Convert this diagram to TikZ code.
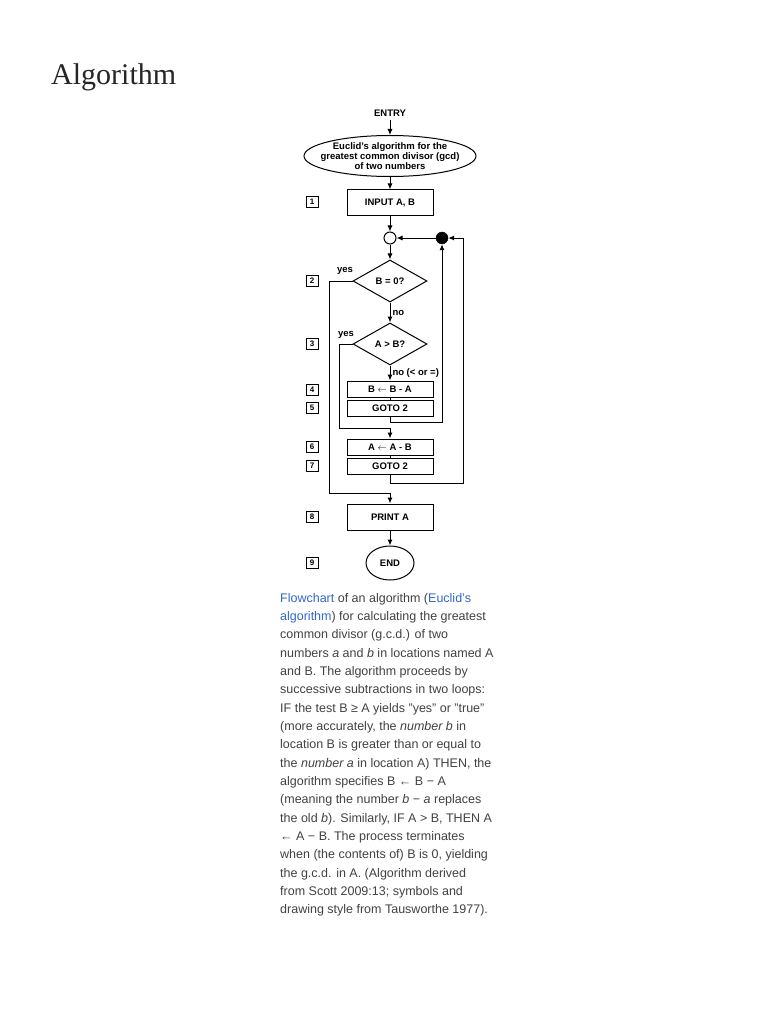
\documentclass[tikz,border=0pt]{standalone}
\usepackage{fontspec}
\setmainfont{Liberation Sans}
\newfontfamily\titlefont{Liberation Serif}
\usetikzlibrary{shapes.geometric,arrows.meta}
\definecolor{captext}{HTML}{424242}
\definecolor{linkblue}{HTML}{3366CC}
\newcommand{\lnk}[1]{\textcolor{linkblue}{#1}}

\begin{document}
\begin{tikzpicture}[x=1pt,y=-1pt,
		every node/.style={font=\fontsize{9.5}{11}\selectfont\bfseries},
		arr/.style={-{Latex[length=6pt,width=5pt]}, line width=1pt},
		ln/.style={line width=1pt},
		stepbox/.style={draw, line width=1pt, minimum width=86, minimum height=16, inner sep=0},
		bigbox/.style={stepbox, minimum height=26},
		test/.style={draw, line width=1pt, diamond, aspect=1.76, minimum width=74, minimum height=42, inner sep=0},
		numbox/.style={draw, line width=0.6pt, minimum width=12, minimum height=11, inner sep=0, font=\fontsize{8}{8}\selectfont\bfseries},
		captxt/.style={anchor=base west, inner sep=0, text=captext, font=\fontsize{12.5}{14}\selectfont}]
		\fill[white] (0,0) rectangle (768,1024);
		\useasboundingbox (0,0) rectangle (768,1024);

		\node[anchor=base west, inner sep=0, font=\titlefont\fontsize{30}{34}\selectfont, text=black!85] (title) at (51,85) {Algorithm};

		% flowchart
		\node (entry) at (390,113) {ENTRY};
		\node[draw, ellipse, line width=1pt, minimum width=172, minimum height=41, inner xsep=-13.5pt, inner ysep=-4pt, align=center, font=\fontsize{9.5}{10.3}\selectfont\bfseries] (start) at (390,156) {Euclid's algorithm for the\\greatest common divisor (gcd)\\of two numbers};
		\node[bigbox] (input) at (390,203) {INPUT A, B};
		\node[draw, circle, line width=1pt, minimum size=12, inner sep=0] (join) at (390,238) {};
		\node[draw, circle, fill=black, minimum size=12, inner sep=0] (dot) at (442,238) {};
		\node[test] (bzero) at (390,281) {B = 0?};
		\node[test] (agtb) at (390,344) {A > B?};
		\node[stepbox] (subb) at (390,389) {B $\leftarrow$ B - A};
		\node[stepbox] (gotoa) at (390,408) {GOTO 2};
		\node[stepbox] (suba) at (390,447) {A $\leftarrow$ A - B};
		\node[stepbox] (gotob) at (390,466) {GOTO 2};
		\node[bigbox] (print) at (390,517) {PRINT A};
		\node[draw, ellipse, line width=1pt, minimum width=48, minimum height=34, inner sep=0] (end) at (390,563) {END};

		\node (yesa) at (345,271) {yes};
		\node (yesb) at (346,335) {yes};

		\foreach \n/\y in {1/202,2/281,3/344,4/390,5/408,6/447,7/466,8/517,9/563}
			\node[numbox] (n\n) at (312,\y) {\n};

		\coordinate (loopa) at (442,422);
		\coordinate (loopb) at (463,483);
		\coordinate (loopbtop) at (463,238);
		\coordinate (yesaend) at (329,493);
		\coordinate (yesbend) at (339,428);

		\draw [arr] (entry) -- (start);
		\draw [arr] (start) -- (input);
		\draw [arr] (input) -- (join);
		\draw [arr] (join) -- (bzero);
		\draw [arr] (bzero) -- node [right, inner sep=2pt] {no} (agtb);
		\draw [arr] (agtb) -- node [right, inner sep=2pt] {no (< or =)} (subb);
		\draw [ln] (subb) -- (gotoa);
		\draw [ln] (suba) -- (gotob);
		\draw [arr] (dot) -- (join);
		\draw [arr] (gotoa.south) |- (loopa) -- (dot);
		\draw [arr] (gotob.south) |- (loopb) -- (loopbtop) -- (dot);
		\draw [arr] (bzero.west) -| (yesaend) -- (yesaend -| print) -- (print);
		\draw [arr] (agtb.west) -| (yesbend) -- (yesbend -| suba) -- (suba);
		\draw [arr] (print) -- (end);

		% caption
		\foreach \t [count=\i] in {
			{\lnk{Flowchart} of an algorithm (\lnk{Euclid's}},
			{\lnk{algorithm}) for calculating the greatest},
			{common divisor (g.c.d.) of two},
			{numbers \textit{a} and \textit{b} in locations named A},
			{and B. The algorithm proceeds by},
			{successive subtractions in two loops:},
			{IF the test B ≥ A yields "yes" or "true"},
			{(more accurately, the \textit{number b} in},
			{location B is greater than or equal to},
			{the \textit{number a} in location A) THEN, the},
			{algorithm specifies B ← B − A},
			{(meaning the number \textit{b} − \textit{a} replaces},
			{the old \textit{b}). Similarly, IF A > B, THEN A},
			{← A − B. The process terminates},
			{when (the contents of) B is 0, yielding},
			{the g.c.d. in A. (Algorithm derived},
			{from Scott 2009:13; symbols and},
			{drawing style from Tausworthe 1977).}}
			\node[captxt] (cap\i) at (280,{602+18.35*(\i-1)}) {\t};
\end{tikzpicture}
\end{document}
